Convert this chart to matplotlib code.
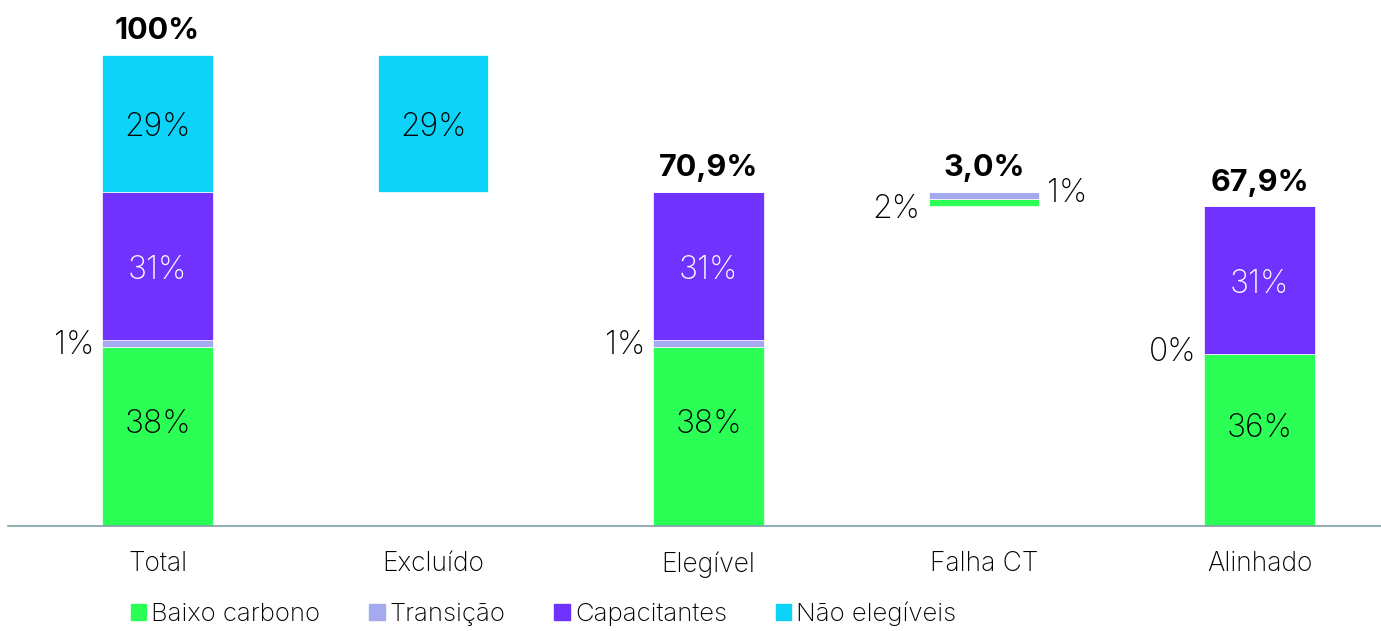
import matplotlib.pyplot as plt
from matplotlib.patches import Patch

plt.rcParams['font.family'] = ['Inter', 'DejaVu Sans']

categories = ['Total', 'Excluído', 'Elegível', 'Falha CT', 'Alinhado']
base = [0, 70.9, 0, 67.9, 0]
baixo = [38.1, 0, 38.1, 1.6, 36.5]
transicao = [1.4, 0, 1.4, 1.4, 0]
capacitantes = [31.4, 0, 31.4, 0, 31.4]
nao_elegiveis = [29.1, 29.1, 0, 0, 0]
totals = ['100%', '', '70,9%', '3,0%', '67,9%']

series = [('Baixo carbono', baixo, '#2bff55'),
          ('Transição', transicao, '#a5a9ee'),
          ('Capacitantes', capacitantes, '#7033ff'),
          ('Não elegíveis', nao_elegiveis, '#0dd3f8')]

fig = plt.figure(figsize=(13.81, 6.31), dpi=100)
ax = fig.add_axes([8 / 1381, 1 - 526 / 631, 1 - 8 / 1381, 518 / 631])

fs = 23
x = range(len(categories))
bottom = list(base)
for name, vals, color in series:
    ax.bar(x, vals, bottom=bottom, width=0.4, color=color, edgecolor='white', linewidth=0.5)
    for i, v in enumerate(vals):
        mid = bottom[i] + v / 2
        lbl = f'{v:.0f}%'
        if v >= 5:
            if name == 'Baixo carbono':
                mid += 2.5
            else:
                mid -= 0.9
            ax.text(i, mid, lbl, ha='center', va='center', fontsize=fs, fontweight='light',
                    color='white' if color == '#7033ff' else 'black')
        elif name == 'Transição' and v > 0:
            if i == 3:
                ax.text(i + 0.23, mid + 0.5, lbl, ha='left', va='center', fontsize=fs,
                        fontweight='light')
            else:
                ax.text(i - 0.23, mid - 0.5, lbl, ha='right', va='center', fontsize=fs,
                        fontweight='light')
        elif name == 'Baixo carbono' and 0 < v < 5:
            ax.text(i - 0.23, mid - 1.5, lbl, ha='right', va='center', fontsize=fs,
                    fontweight='light')
    bottom = [b + v for b, v in zip(bottom, vals)]

# zero transition label on aligned bar
ax.text(4 - 0.23, baixo[4] + 0.3, '0%', ha='right', va='center', fontsize=fs, fontweight='light')

tops = [max(b, base[i]) for i, b in enumerate(bottom)]
tops[3] = base[3] + baixo[3] + transicao[3]
for i, t in enumerate(totals):
    if t:
        ax.annotate(t, (i, tops[i]), xytext=(0, 7), textcoords='offset points',
                    ha='center', va='bottom', fontsize=22, fontweight='bold')

ax.set_xlim(-0.543, 4.441)
ax.set_ylim(0, 110)
for s in ['top', 'right', 'left']:
    ax.spines[s].set_visible(False)
ax.spines['bottom'].set_color('#7f9fa6')
ax.spines['bottom'].set_linewidth(1.2)
ax.set_yticks([])
ax.set_xticks(list(x))
ax.set_xticklabels(categories, fontsize=19, fontweight='light')
ax.tick_params(axis='x', length=0, pad=18)

handles = [Patch(color=c, label=n) for n, _, c in series]
fig.legend(handles=handles, loc='center left', bbox_to_anchor=(118 / 1381, 1 - 614 / 631),
           ncol=4, frameon=False, prop={'size': 18.5, 'weight': 'light'}, handlelength=0.6,
           handleheight=0.6, handletextpad=0.2, columnspacing=1.9, borderpad=0)

fig.savefig('out.png', dpi=100)
